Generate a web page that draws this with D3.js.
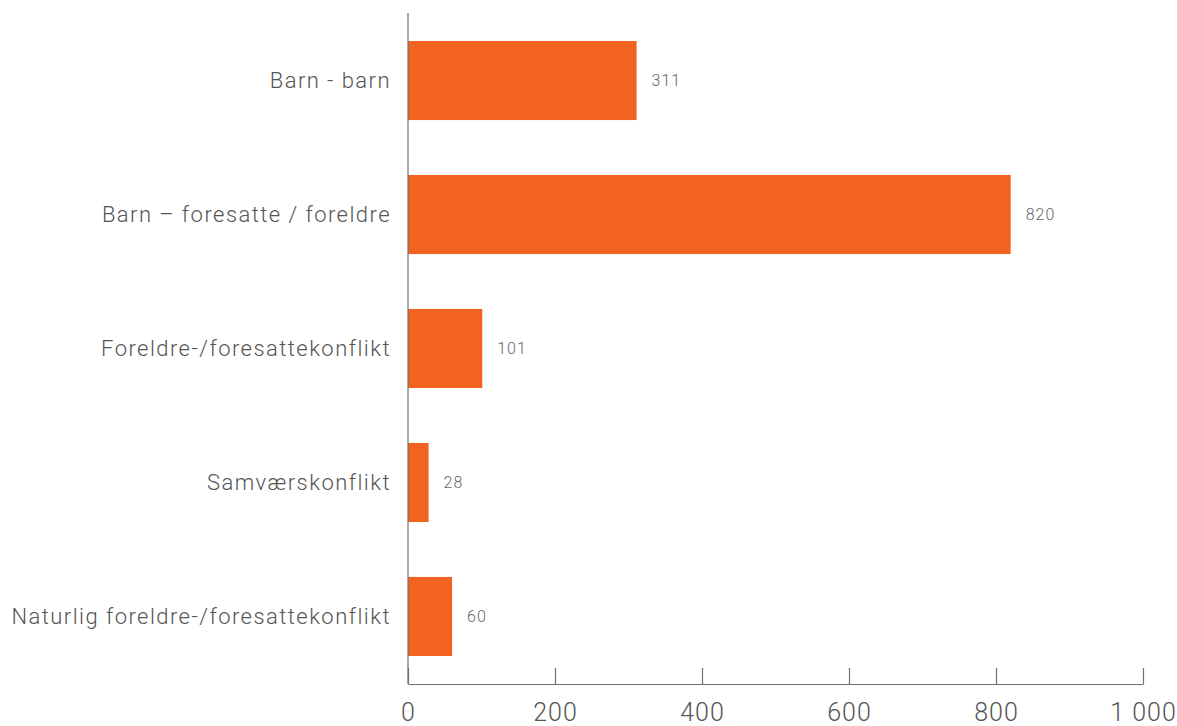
<!DOCTYPE html>
<html>
<head>
<meta charset="utf-8">
<script src="https://cdn.jsdelivr.net/npm/d3@7"></script>
<style>
  html, body { margin: 0; padding: 0; background: #fff; }
  svg { display: block; }
  text { font-family: Roboto, "Open Sans", sans-serif; font-weight: 300; }
</style>
</head>
<body>
<svg id="chart" width="1177" height="726"></svg>
<script>
const categories = [
  "Barn - barn",
  "Barn – foresatte / foreldre",
  "Foreldre-/foresattekonflikt",
  "Samværskonflikt",
  "Naturlig foreldre-/foresattekonflikt"
];
const values = [311, 820, 101, 28, 60];
const tickValues = [0, 200, 400, 600, 800, 1000];

const barColor = "#F26322";
const axisColor = "#6f6f6f";
const textColor = "#555";

const svg = d3.select("#chart");

const x = d3.scaleLinear().domain([0, 1000]).range([408, 1143]);
const y = d3.scaleBand()
  .domain(categories)
  .range([13, 684])
  .paddingInner(0.41)
  .paddingOuter(0.209);

const data = categories.map((c, i) => ({ category: c, value: values[i] }));

// bars
svg.append("g")
  .selectAll("rect")
  .data(data)
  .join("rect")
  .attr("x", x(0))
  .attr("y", d => y(d.category))
  .attr("width", d => x(d.value) - x(0))
  .attr("height", y.bandwidth())
  .attr("fill", barColor);

// value labels
svg.append("g")
  .selectAll("text")
  .data(data)
  .join("text")
  .attr("x", d => x(d.value) + 15)
  .attr("y", d => y(d.category) + y.bandwidth() / 2)
  .attr("dy", "0.35em")
  .attr("font-size", 16)
  .attr("letter-spacing", 1)
  .attr("fill", "#666")
  .text(d => d.value);

// category labels
svg.append("g")
  .selectAll("text")
  .data(categories)
  .join("text")
  .attr("x", 391)
  .attr("y", d => y(d) + y.bandwidth() / 2)
  .attr("dy", "0.35em")
  .attr("text-anchor", "end")
  .attr("font-size", 22)
  .attr("letter-spacing", 1.45)
  .attr("fill", textColor)
  .text(d => d);

// bottom axis
const xAxis = d3.axisBottom(x)
  .tickValues(tickValues)
  .tickSize(-16)
  .tickSizeOuter(0)
  .tickPadding(19)
  .tickFormat(n => d3.format(",")(n).replace(/,/g, " "));

const gx = svg.append("g")
  .attr("transform", "translate(0,684)")
  .call(xAxis);
gx.select(".domain").attr("stroke", axisColor).attr("stroke-width", 1.2);
gx.selectAll(".tick line").attr("stroke", axisColor).attr("stroke-width", 1.2);
gx.selectAll(".tick text")
  .attr("font-size", 25)
  .attr("letter-spacing", 1)
  .attr("font-family", "Roboto, 'Open Sans', sans-serif")
  .attr("font-weight", 300)
  .attr("fill", textColor);

// vertical baseline
svg.append("line")
  .attr("x1", x(0)).attr("x2", x(0))
  .attr("y1", 13).attr("y2", 684)
  .attr("stroke", axisColor)
  .attr("stroke-width", 1.2);
</script>
</body>
</html>
